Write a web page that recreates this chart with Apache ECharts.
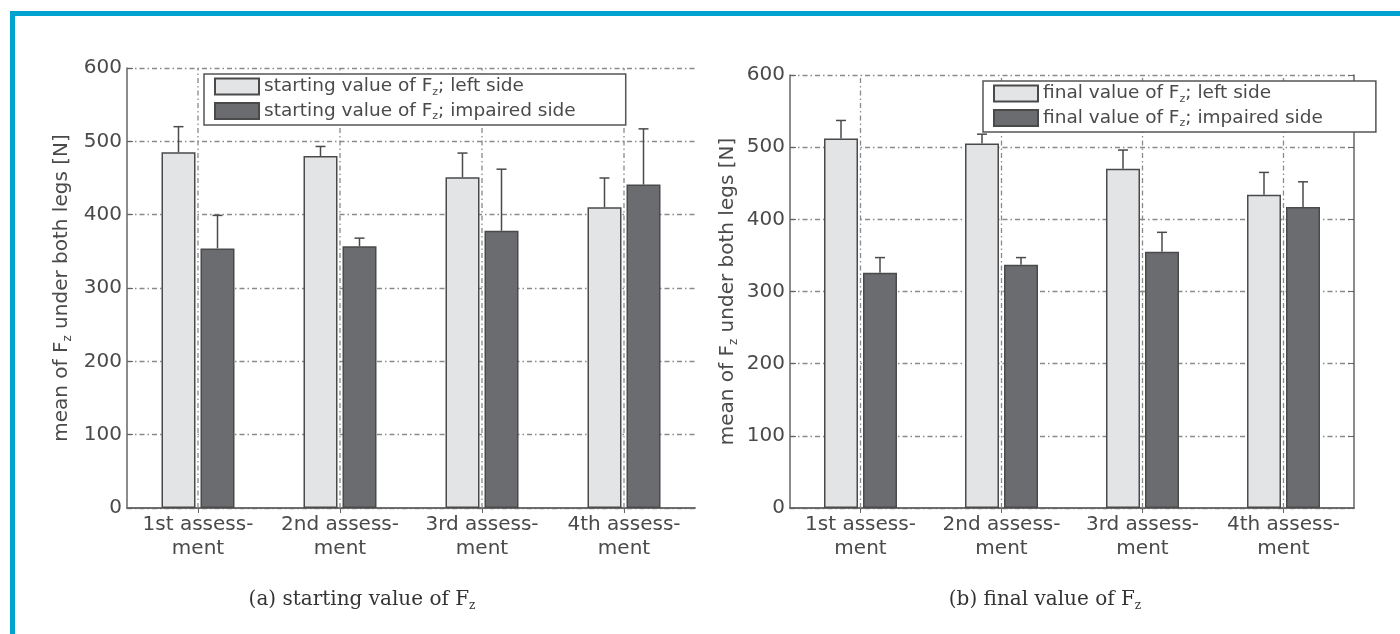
<!DOCTYPE html>
<html>
<head>
<meta charset="utf-8">
<title>Mean of Fz under both legs</title>
<script src="https://cdn.jsdelivr.net/npm/echarts@6/dist/echarts.min.js"></script>
<style>
  html, body { margin: 0; padding: 0; background: #ffffff; }
  #chart { width: 1400px; height: 634px; }
</style>
</head>
<body>
<div id="chart"></div>
<script>
// Assessment categories (x axis)
const categories = ['1st assess-\nment', '2nd assess-\nment', '3rd assess-\nment', '4th assess-\nment'];
const yTicks = [0, 100, 200, 300, 400, 500, 600];

// (a) starting value of Fz — means and upper error (SD) in N
const startLeftMean = [485, 480, 451, 410];
const startLeftSd   = [35, 13, 33, 40];
const startImpMean  = [354, 357, 378, 441];
const startImpSd    = [45, 11, 84, 76];

// (b) final value of Fz — means and upper error (SD) in N
const finalLeftMean = [512, 505, 470, 434];
const finalLeftSd   = [25, 13, 26, 31];
const finalImpMean  = [326, 337, 355, 417];
const finalImpSd    = [21, 10, 27, 35];

const FONT = '"DejaVu Sans", "Liberation Sans", sans-serif';
const SERIF = '"DejaVu Serif", "Liberation Serif", serif';
const TXT = '#4a4a4a';
const LIGHT = '#e3e4e6';
const DARK = '#6b6c70';
const BAR_W = 34;
const BAR_GAP_PX = 5;

const subRich = (size, lh) => ({
  t: { fontFamily: FONT, fontSize: size, color: TXT, lineHeight: lh },
  s: { fontFamily: FONT, fontSize: Math.round(size * 0.6), color: TXT, lineHeight: Math.round(size * 0.6) + 1, verticalAlign: 'bottom' }
});
const withSub = (name) => {
  const i = name.indexOf('Fz');
  if (i < 0) return '{t|' + name + '}';
  return '{t|' + name.slice(0, i) + 'F}{s|z}{t|' + name.slice(i + 2) + '}';
};

const dashDot = [5, 3, 1.5, 3];
const gridLineStyle = { color: '#8a8a8a', width: 1.3, type: dashDot };

function gridAxes(gridIndex, withRightAxis) {
  const x = [{
    type: 'category', gridIndex, data: categories,
    axisLine: { show: true, onZero: false, lineStyle: { color: '#666', width: 1.5 } },
    axisTick: { show: false },
    axisLabel: { fontFamily: FONT, fontSize: 20, color: TXT, lineHeight: 24, margin: 5, interval: 0 },
    splitLine: { show: false }
  }, {
    type: 'category', gridIndex, position: 'top', data: categories,
    axisLine: { show: true, lineStyle: { color: '#666', width: 1.5 } },
    axisTick: { show: true, inside: true, alignWithLabel: true, length: 5, lineStyle: { color: '#666' } },
    axisLabel: { show: false }, splitLine: { show: false }
  }];
  const y = [{
    type: 'value', gridIndex, min: 0, max: 600, interval: 100,
    name: withSub('mean of Fz under both legs [N]'),
    nameLocation: 'middle', nameRotate: 90, nameGap: gridIndex === 0 ? 53 : 50,
    nameTextStyle: { rich: subRich(20, 24) },
    axisLine: { show: true, lineStyle: { color: '#666', width: 1.5 } },
    axisTick: { show: true, inside: true, length: 6, lineStyle: { color: '#666' } },
    axisLabel: { fontFamily: FONT, fontSize: 20, color: TXT, margin: 5,
      formatter: (v) => yTicks.includes(v) ? String(v) : '' },
    splitLine: { show: true, lineStyle: gridLineStyle }
  }];
  if (withRightAxis) {
    y.push({
      type: 'value', gridIndex, min: 0, max: 600, interval: 100, position: 'right',
      axisLine: { show: true, lineStyle: { color: '#666', width: 1.5 } },
      axisTick: { show: true, inside: true, length: 6, lineStyle: { color: '#666' } },
      axisLabel: { show: false }, splitLine: { show: false }
    });
  }
  return { x, y };
}

const a = gridAxes(0, false);
const b = gridAxes(1, true);
const xAxis = a.x.concat(b.x);   // 0,1 -> grid 0 ; 2,3 -> grid 1
const yAxis = a.y.concat(b.y);   // 0 -> grid 0 ; 1,2 -> grid 1

function barSeries(name, means, color, xi, yi) {
  return {
    name, type: 'bar', xAxisIndex: xi, yAxisIndex: yi,
    data: means, barWidth: BAR_W, barGap: (BAR_GAP_PX / BAR_W * 100) + '%',
    itemStyle: { color, borderColor: '#4a4a4a', borderWidth: 1.5 },
    z: 3
  };
}

// vertical dotted grid lines through each category centre
function vGridSeries(xi, yi) {
  return {
    type: 'custom', xAxisIndex: xi, yAxisIndex: yi, z: 2, silent: true,
    data: categories.map((c, i) => [i, 0, 600]),
    renderItem: (params, api) => {
      const p0 = api.coord([api.value(0), api.value(1)]);
      const p1 = api.coord([api.value(0), api.value(2)]);
      return { type: 'line', shape: { x1: p0[0], y1: p0[1], x2: p1[0], y2: p1[1] },
        style: { stroke: gridLineStyle.color, lineWidth: gridLineStyle.width, lineDash: dashDot } };
    }
  };
}

// upper error whiskers with caps, placed over the left (-1) or right (+1) bar
function errSeries(means, sds, side, xi, yi) {
  return {
    type: 'custom', xAxisIndex: xi, yAxisIndex: yi, z: 4, silent: true,
    data: means.map((m, i) => [i, m, m + sds[i]]),
    renderItem: (params, api) => {
      const base = api.coord([api.value(0), api.value(1)]);
      const top = api.coord([api.value(0), api.value(2)]);
      const dx = side * (BAR_W / 2 + BAR_GAP_PX / 2);
      const x = base[0] + dx;
      const st = { stroke: '#4a4a4a', lineWidth: 1.5 };
      return {
        type: 'group',
        children: [
          { type: 'line', shape: { x1: x, y1: base[1], x2: x, y2: top[1] }, style: st },
          { type: 'line', shape: { x1: x - 5, y1: top[1], x2: x + 5, y2: top[1] }, style: st }
        ]
      };
    }
  };
}

const nStartL = 'starting value of Fz; left side';
const nStartI = 'starting value of Fz; impaired side';
const nFinalL = 'final value of Fz; left side';
const nFinalI = 'final value of Fz; impaired side';

const legendBase = {
  orient: 'vertical', icon: 'rect', itemWidth: 44, itemHeight: 16, itemGap: 4,
  backgroundColor: '#ffffff', borderColor: '#555', borderWidth: 1.5,
  formatter: withSub,
  textStyle: { rich: subRich(18.5, 22) },
  z: 10
};

const option = {
  animation: false,
  backgroundColor: '#ffffff',
  grid: [
    { left: 127, top: 68, width: 568, height: 440 },
    { left: 790, top: 75, width: 564, height: 433 }
  ],
  xAxis, yAxis,
  legend: [
    Object.assign({}, legendBase, { left: 204, top: 74, padding: [3, 50, 3, 10], data: [nStartL, nStartI] }),
    Object.assign({}, legendBase, { left: 983, top: 81, padding: [3, 53, 3, 10], data: [nFinalL, nFinalI] })
  ],
  series: [
    vGridSeries(0, 0),
    barSeries(nStartL, startLeftMean, LIGHT, 0, 0),
    barSeries(nStartI, startImpMean, DARK, 0, 0),
    errSeries(startLeftMean, startLeftSd, -1, 0, 0),
    errSeries(startImpMean, startImpSd, 1, 0, 0),
    vGridSeries(2, 1),
    barSeries(nFinalL, finalLeftMean, LIGHT, 2, 1),
    barSeries(nFinalI, finalImpMean, DARK, 2, 1),
    errSeries(finalLeftMean, finalLeftSd, -1, 2, 1),
    errSeries(finalImpMean, finalImpSd, 1, 2, 1)
  ],
  graphic: [
    // blue frame
    { type: 'rect', shape: { x: 10, y: 11, width: 1390, height: 5 }, style: { fill: '#00a3d0' }, silent: true },
    { type: 'rect', shape: { x: 10, y: 11, width: 5, height: 623 }, style: { fill: '#00a3d0' }, silent: true },
    // sub-figure captions
    { type: 'text', x: 362, y: 600, silent: true,
      style: { text: '{t|(a) starting value of F}{s|z}', align: 'center', verticalAlign: 'middle',
        rich: { t: { fontFamily: SERIF, fontSize: 20, fill: '#333', lineHeight: 24 },
                s: { fontFamily: SERIF, fontSize: 12, fill: '#333', lineHeight: 13, verticalAlign: 'bottom' } } } },
    { type: 'text', x: 1045, y: 600, silent: true,
      style: { text: '{t|(b) final value of F}{s|z}', align: 'center', verticalAlign: 'middle',
        rich: { t: { fontFamily: SERIF, fontSize: 20, fill: '#333', lineHeight: 24 },
                s: { fontFamily: SERIF, fontSize: 12, fill: '#333', lineHeight: 13, verticalAlign: 'bottom' } } } }
  ]
};

const chart = echarts.init(document.getElementById('chart'), null, { renderer: 'canvas' });
chart.setOption(option);
</script>
</body>
</html>
